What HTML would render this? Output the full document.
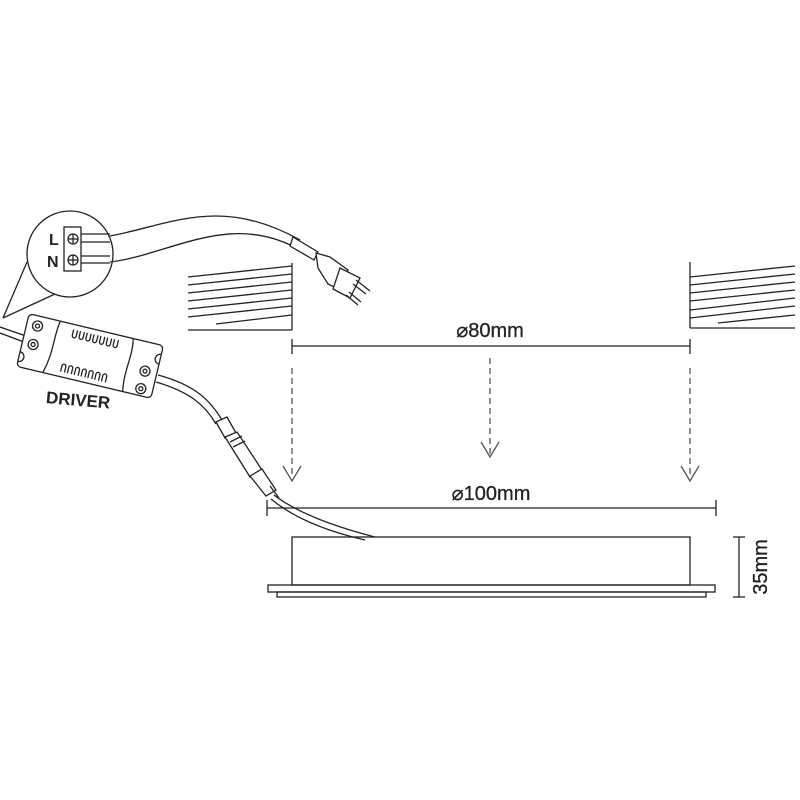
<!DOCTYPE html>
<html><head><meta charset="utf-8"><style>
html,body{margin:0;padding:0;background:#fff;width:800px;height:800px;overflow:hidden}
svg{display:block}
text{font-family:"Liberation Sans",sans-serif;fill:#222}
</style></head><body>
<svg width="800" height="800" viewBox="0 0 800 800" xmlns="http://www.w3.org/2000/svg">
<g stroke="#222" stroke-width="1.3" fill="none">
<!-- left wall -->
<line x1="292" y1="263" x2="292" y2="330"/>
<line x1="188" y1="330" x2="292" y2="330"/>
<line x1="188" y1="277" x2="292" y2="266"/>
<line x1="188" y1="285" x2="292" y2="274"/>
<line x1="188" y1="293" x2="292" y2="282"/>
<line x1="188" y1="301" x2="292" y2="290"/>
<line x1="188" y1="309" x2="292" y2="298"/>
<line x1="188" y1="317" x2="292" y2="306"/>
<line x1="216" y1="324" x2="292" y2="315"/>
<!-- right wall -->
<line x1="690" y1="262" x2="690" y2="328"/>
<line x1="690" y1="328" x2="795" y2="328"/>
<line x1="690" y1="277" x2="795" y2="266"/>
<line x1="690" y1="285" x2="795" y2="274"/>
<line x1="690" y1="293" x2="795" y2="282"/>
<line x1="690" y1="301" x2="795" y2="290"/>
<line x1="690" y1="310" x2="795" y2="298"/>
<line x1="690" y1="318" x2="795" y2="306"/>
<line x1="718" y1="323" x2="795" y2="315"/>
<!-- 80mm dim -->
<line x1="292" y1="346" x2="690" y2="346"/>
<line x1="292" y1="339" x2="292" y2="354"/>
<line x1="690" y1="339" x2="690" y2="354"/>
<!-- dashed arrows -->
<g stroke="#555" stroke-dasharray="6,4">
<line x1="292" y1="368" x2="292" y2="478"/>
<line x1="490" y1="358" x2="490" y2="454"/>
<line x1="690" y1="368" x2="690" y2="478"/>
</g>
<polyline stroke="#555" points="283,466 292,481 301,466"/>
<polyline stroke="#555" points="481,442 490,457 499,442"/>
<polyline stroke="#555" points="681,466 690,481 699,466"/>
<!-- 100mm dim -->
<line x1="267" y1="508" x2="716" y2="508"/>
<line x1="267" y1="500" x2="267" y2="516"/>
<line x1="716" y1="500" x2="716" y2="516"/>
<!-- fixture -->
<rect x="292" y="537" width="398" height="48"/>
<rect x="268" y="585" width="447" height="7"/>
<rect x="277" y="592" width="429" height="5"/>
<!-- 35mm -->
<line x1="739" y1="537" x2="739" y2="597"/>
<line x1="733" y1="537" x2="745" y2="537"/>
<line x1="733" y1="597" x2="745" y2="597"/>
<!-- detail circle -->
<circle cx="70" cy="254" r="43"/>
<line x1="27" y1="262" x2="3" y2="318"/>
<line x1="55" y1="294" x2="3" y2="318"/>
<rect x="64" y="227" width="17" height="44"/>
<circle cx="73" cy="239" r="5"/><line x1="68" y1="239" x2="78" y2="239"/><line x1="73" y1="234" x2="73" y2="244"/>
<circle cx="73" cy="260" r="5"/><line x1="68" y1="260" x2="78" y2="260"/><line x1="73" y1="255" x2="73" y2="265"/>
<path d="M81 234 H110 M81 242 H110 M81 256 H110 M81 263 H110"/>
<!-- mains cable -->
<path d="M110 236 C170 225 220 195 300 240"/>
<path d="M110 262 C170 255 230 210 300 250"/>
<path d="M293 237 L318 252 L314 260 L290 246 Z" fill="#fff"/>
<path d="M316 253 L330 257 L348 270 L340 290 L328 284 L318 268 Z" fill="#fff"/>
<path d="M340 268 L360 278 L350 298 L333 289 Z" fill="#fff"/>
<line x1="356" y1="280" x2="370" y2="291"/><line x1="353" y1="284" x2="366" y2="294"/>
<line x1="349" y1="292" x2="361" y2="302"/><line x1="346" y1="295" x2="358" y2="305"/>
<!-- cable left of driver -->
<line x1="0" y1="327" x2="26" y2="336"/>
<line x1="0" y1="333" x2="24" y2="342"/>
<!-- driver -->
<g transform="translate(90,356) rotate(13.4)">
<rect x="-69" y="-27" width="138" height="54" rx="4" fill="#fff"/>
<path d="M-37 -27 C-40 -10 -36 5 -42 27"/>
<path d="M38 -27 C42 -10 36 5 40 27"/>
<circle cx="-58" cy="-17" r="5"/><circle cx="-58" cy="-17" r="2"/>
<circle cx="-58" cy="2" r="5"/><circle cx="-58" cy="2" r="2"/>
<path d="M-69 12 a5 5 0 0 1 0 10"/>
<circle cx="57" cy="2" r="5"/><circle cx="57" cy="2" r="2"/>
<circle cx="57" cy="20" r="5"/><circle cx="57" cy="20" r="2"/>
<path d="M69 -18 a5 5 0 0 0 0 10"/>
<path d="M-22 -22 v6 a2 2 0 0 0 4 0 v-6 M-15 -22 v6 a2 2 0 0 0 4 0 v-6 M-8 -22 v6 a2 2 0 0 0 4 0 v-6 M-1 -22 v6 a2 2 0 0 0 4 0 v-6 M6 -22 v6 a2 2 0 0 0 4 0 v-6 M13 -22 v6 a2 2 0 0 0 4 0 v-6 M20 -22 v6 a2 2 0 0 0 4 0 v-6"/>
<path d="M-25 22 v-6 a2 2 0 0 1 4 0 v6 M-18 22 v-6 a2 2 0 0 1 4 0 v6 M-11 22 v-6 a2 2 0 0 1 4 0 v6 M-4 22 v-6 a2 2 0 0 1 4 0 v6 M3 22 v-6 a2 2 0 0 1 4 0 v6 M10 22 v-6 a2 2 0 0 1 4 0 v6 M17 22 v-6 a2 2 0 0 1 4 0 v6"/>
</g>
<!-- driver output cable -->
<path d="M158 375 C195 385 210 400 222 420"/>
<path d="M156 382 C190 392 205 405 216 424"/>
<path d="M216 422 L227 417 L236 433 L225 438 Z" fill="#fff"/>
<path d="M225 437 L237 432 L262 470 L250 477 Z" fill="#fff"/>
<line x1="230" y1="442" x2="242" y2="436"/><line x1="233" y1="447" x2="245" y2="441"/>
<path d="M250 476 L262 469 L276 490 L266 496 Z" fill="#fff"/>
<line x1="270" y1="486" x2="279" y2="498"/>
<path d="M274 495 C300 515 340 528 375 537"/>
<path d="M271 499 C295 519 330 532 365 540"/>
</g>
<text x="49" y="245" font-size="16" font-weight="bold">L</text>
<text x="47" y="267" font-size="16" font-weight="bold">N</text>
<text x="46" y="406" font-size="17" font-weight="bold" transform="rotate(5 80 400)">DRIVER</text>
<text x="490" y="337" font-size="20" text-anchor="middle" stroke="#222" stroke-width="0.3">⌀80mm</text>
<text x="491" y="500" font-size="20" text-anchor="middle" stroke="#222" stroke-width="0.3">⌀100mm</text>
<text x="0" y="0" font-size="20" text-anchor="middle" stroke="#222" stroke-width="0.3" transform="translate(767,567) rotate(-90)">35mm</text>
</svg>
</body></html>
